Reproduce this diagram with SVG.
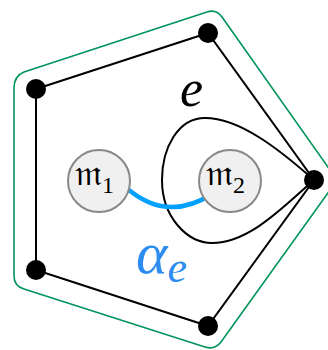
<svg xmlns="http://www.w3.org/2000/svg" width="328" height="350" viewBox="0 0 328 350">
<style>
.edge{fill:none;stroke:#000;stroke-width:2}
.v{fill:#000}
.m{fill:#f0f0f0;stroke:#888;stroke-width:2}
.lbl{font-family:"DejaVu Serif","Liberation Serif",serif;fill:#000}
.sub{font-family:"Liberation Serif",serif}
</style>
<rect width="328" height="350" fill="#fff"/>
<g id="boundary">
<path d="M14,88 Q14,76 24,72 L207,12 Q216,9 222,17 L330,170 Q335,180 330,190 L221,342 Q215,350 205,347 L24,289 Q14,286 14,276 Z" fill="none" stroke="#00945a" stroke-width="1.6"/>
</g>
<g id="connectors">
<path class="edge" d="M36,89 L208,33 L314,180 L208,326 L36,270 Z"/>
<path class="edge" d="M314,180 C280,150 240,118 205,118 C178,118 162,148 162,180 C162,218 188,243 212,243 C250,243 285,205 314,180"/>
<path d="M129,190 Q168,222 212,194" fill="none" stroke="#00a0ff" stroke-width="4.5"/>
</g>
<g id="v1"><circle class="v" cx="208" cy="33" r="10"/></g>
<g id="v2"><circle class="v" cx="36" cy="89" r="10"/></g>
<g id="v3"><circle class="v" cx="314" cy="180" r="10"/></g>
<g id="v4"><circle class="v" cx="36" cy="270" r="10"/></g>
<g id="v5"><circle class="v" cx="208" cy="326" r="10"/></g>
<g id="m1">
<circle class="m" cx="99" cy="181" r="31"/>
<text class="lbl" x="75" y="185" font-size="36">𝔪<tspan class="sub" font-size="24" dy="8">1</tspan></text>
</g>
<g id="m2">
<circle class="m" cx="230" cy="181" r="31"/>
<text class="lbl" x="206" y="185" font-size="36">𝔪<tspan class="sub" font-size="24" dy="8">2</tspan></text>
</g>
<g id="label-e">
<text x="180" y="106" font-family="'Liberation Serif',serif" font-style="italic" font-size="52" fill="#000">e</text>
</g>
<g id="label-alpha">
<text x="136" y="273" font-family="'Liberation Serif',serif" font-style="italic" font-size="60" fill="#2d8cf0">α<tspan font-size="44" dy="9">e</tspan></text>
</g>
</svg>
